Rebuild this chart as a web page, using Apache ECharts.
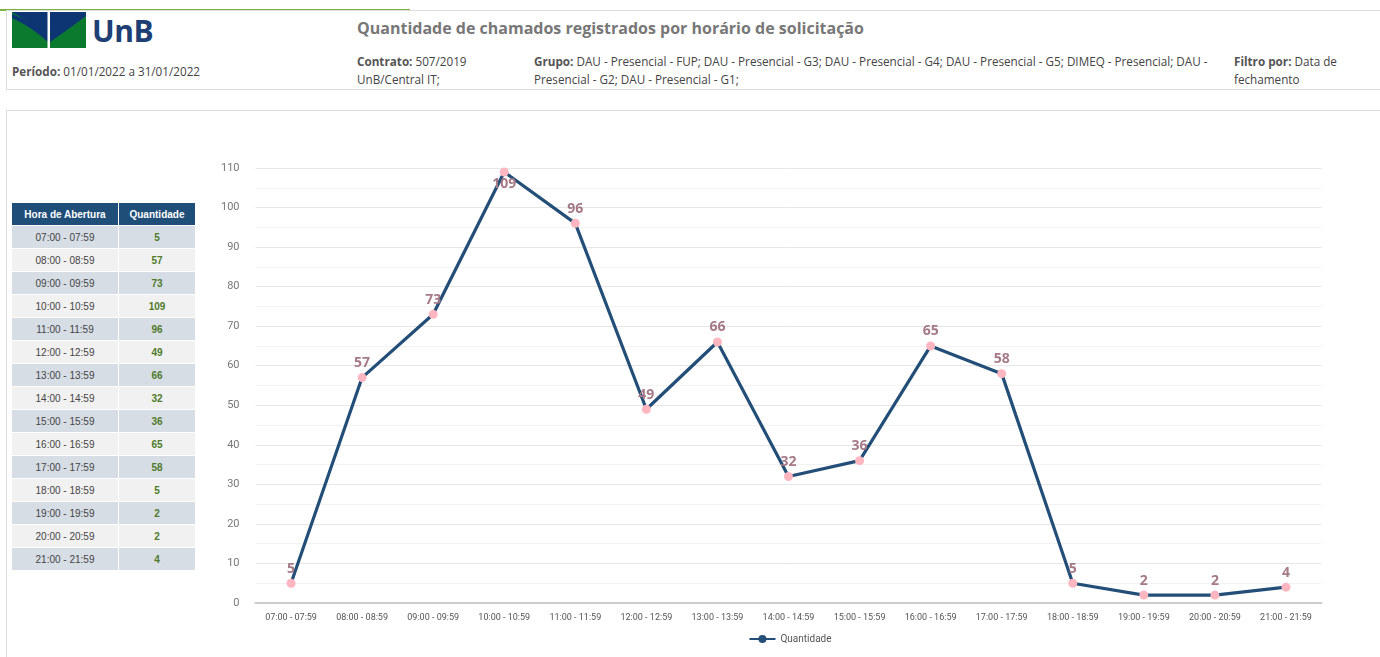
<!DOCTYPE html>
<html>
<head>
<meta charset="utf-8">
<script src="https://cdn.jsdelivr.net/npm/echarts@6/dist/echarts.min.js"></script>
<style>
body { margin:0; background:#fff; font-family:"Open Sans", sans-serif; width:1380px; height:657px; overflow:hidden; position:relative; }
#topline { position:absolute; left:0; top:9px; width:410px; height:2px; background:#7cb342; }
#header { position:absolute; left:6px; top:10px; width:1380px; height:80px; border:1px solid #ddd; box-sizing:border-box; }
#logo { position:absolute; left:12px; top:12px; }
#logoText { position:absolute; left:92px; top:10px; font-family:"Open Sans"; font-weight:bold; font-size:30px; color:#1d3f73; letter-spacing:-0.5px; }
.lbl { position:absolute; font-size:11.7px; color:#444; line-height:18px; }
.lbl b { color:#555; }
#title { position:absolute; left:357px; top:17px; font-size:16px; font-weight:bold; color:#777; }
#box { position:absolute; left:6px; top:110px; width:1380px; height:560px; border:1px solid #ddd; box-sizing:border-box; }
#tbl { position:absolute; left:12px; top:203px; border-collapse:collapse; font-family:"Liberation Sans", Arial, sans-serif; font-size:10px; }
#tbl th { background:#1f4e79; color:#fff; height:22px; font-weight:bold; padding:0; border-right:1px solid #fff; }
#tbl td { height:22px; padding:0; text-align:center; color:#444; border-right:1px solid #fff; border-top:1px solid #fff; }
#tbl td.q { color:#4f7a2a; font-weight:bold; }
#tbl tr.odd td { background:#d7dde5; }
#tbl tr.even td { background:#f1f1f1; }
#chart { position:absolute; left:200px; top:110px; width:1180px; height:547px; }
</style>
</head>
<body>
<div id="topline"></div>
<div id="header"></div>
<svg id="logo" width="74" height="36" viewBox="0 0 74 36">
  <rect x="0" y="0" width="74" height="36" fill="#0b7a2f"/>
  <path d="M0 2 Q20 10 36 22 L38 22 Q54 10 74 0 L74 4 Q58 16 38 30 L36 30 Q18 14 0 6 Z" fill="#0d3573"/>
  <path d="M0 0 L74 0 L38 22 L36 22 Z" fill="#0d3573"/>
  <rect x="35.5" y="0" width="2.5" height="36" fill="#fff"/>
</svg>
<div id="logoText">UnB</div>
<div class="lbl" style="left:12px;top:62px;"><b>Período:</b> 01/01/2022 a 31/01/2022</div>
<div id="title">Quantidade de chamados registrados por horário de solicitação</div>
<div class="lbl" style="left:357px;top:52px;width:160px;"><b>Contrato:</b> 507/2019<br>UnB/Central IT;</div>
<div class="lbl" style="left:534px;top:52px;width:690px;"><b>Grupo:</b> DAU - Presencial - FUP; DAU - Presencial - G3; DAU - Presencial - G4; DAU - Presencial - G5; DIMEQ - Presencial; DAU - Presencial - G2; DAU - Presencial - G1;</div>
<div class="lbl" style="left:1234px;top:52px;width:130px;"><b>Filtro por:</b> Data de fechamento</div>
<div id="box"></div>
<table id="tbl"><thead><tr><th style="width:106px">Hora de Abertura</th><th style="width:76px">Quantidade</th></tr></thead><tbody id="tb"></tbody></table>
<div id="chart"></div>
<script>
var categories = ['07:00 - 07:59','08:00 - 08:59','09:00 - 09:59','10:00 - 10:59','11:00 - 11:59','12:00 - 12:59','13:00 - 13:59','14:00 - 14:59','15:00 - 15:59','16:00 - 16:59','17:00 - 17:59','18:00 - 18:59','19:00 - 19:59','20:00 - 20:59','21:00 - 21:59'];
var quantidade = [5,57,73,109,96,49,66,32,36,65,58,5,2,2,4];
var yTicks = { min:0, max:110, interval:10 };

// tabela lateral
var html = '';
for (var i = 0; i < categories.length; i++) {
	html += '<tr class="' + (i % 2 == 0 ? 'odd' : 'even') + '"><td>' + categories[i] + '</td><td class="q">' + quantidade[i] + '</td></tr>';
}
document.getElementById('tb').innerHTML = html;

var data = [];
for (var i = 0; i < quantidade.length; i++) {
	var item = { value: quantidade[i] };
	if (quantidade[i] == 109) item.label = { position: 'bottom', distance: 1 };
	data.push(item);
}

var option = {
	animation: false,
	grid: { left: 55.5, right: 58.5, top: 58, bottom: 54 },
	legend: {
		bottom: 8, left: 'center', itemWidth: 26, itemHeight: 10,
		textStyle: { color: '#555', fontSize: 10, fontFamily: 'Roboto' },
		data: [{ name: 'Quantidade', itemStyle: { color: '#234e78' } }]
	},
	xAxis: {
		type: 'category', data: categories, boundaryGap: true,
		axisTick: { show: false },
		axisLine: { lineStyle: { color: '#ccc', width: 2 } },
		axisLabel: { color: '#555', fontSize: 9, fontFamily: 'Roboto', margin: 10, interval: 0 }
	},
	yAxis: {
		type: 'value', min: yTicks.min, max: yTicks.max, interval: yTicks.interval,
		axisLabel: { color: '#777', fontSize: 11, fontFamily: 'Roboto', margin: 16 },
		splitLine: { lineStyle: { color: '#e6e6e6' } },
		minorTick: { show: false, splitNumber: 2 },
		minorSplitLine: { show: true, lineStyle: { color: '#f3f3f3' } }
	},
	series: [{
		name: 'Quantidade', type: 'line', data: data,
		symbol: 'circle', symbolSize: 9,
		lineStyle: { color: '#234e78', width: 3.2 },
		itemStyle: { color: '#ffb6c1' },
		label: { show: true, position: 'top', distance: 3, color: '#a57a86', fontSize: 14, fontWeight: 'bold', fontFamily: 'Open Sans' }
	}]
};

var myChart = echarts.init(document.getElementById('chart'));
myChart.setOption(option);
</script>
</body>
</html>
